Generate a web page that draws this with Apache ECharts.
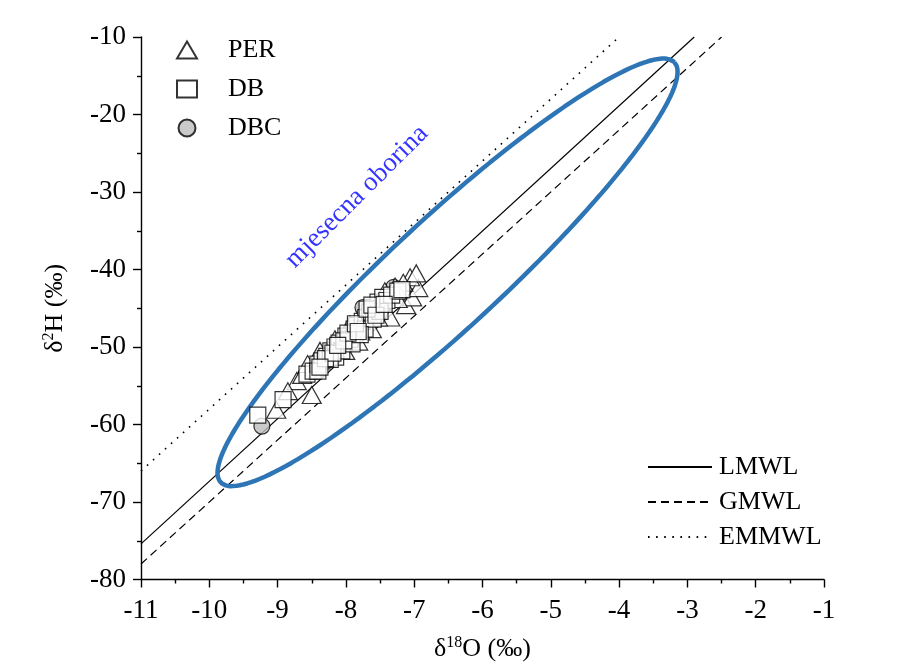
<!DOCTYPE html>
<html><head><meta charset="utf-8">
<script src="https://cdn.jsdelivr.net/npm/echarts@6/dist/echarts.min.js"></script>
<style>html,body{margin:0;padding:0;background:#fff}#c{width:897px;height:667px}</style>
</head><body><div id="c"></div>
<script>
// ---- data ----
const perX = [-9.02,-8.72,-8.50,-8.64,-8.45,-8.31,-8.01,-7.82,-7.62,-7.35,-7.12,-7.03,-6.94,-7.06,-6.97,-7.16,-7.43,-7.28,-7.72,-7.94,-8.16,-8.38,-8.56,-8.85,-7.53,-7.79,-7.24];
const perY = [-58.1,-54.4,-56.2,-53.6,-52.6,-51.3,-50.5,-49.3,-47.7,-46.2,-44.6,-43.6,-42.4,-41.0,-40.5,-41.7,-42.8,-42.2,-45.4,-47.1,-49.0,-50.5,-52.2,-55.7,-46.2,-48.0,-43.8];
const dbX = [-9.29,-8.92,-8.57,-8.48,-8.41,-8.35,-8.28,-8.22,-8.16,-8.10,-8.15,-8.06,-8.00,-7.94,-7.88,-7.84,-7.76,-7.71,-7.65,-7.72,-7.59,-7.53,-7.46,-7.40,-7.33,-7.24,-7.18,-7.60,-7.91,-8.23,-8.41,-7.50,-7.79,
             -8.30,-8.19,-8.03,-7.97,-7.86,-7.69,-7.62,-8.12,-7.82,-7.56,-7.44,-8.38];
const dbY = [-58.8,-56.8,-53.5,-53.1,-52.2,-51.8,-51.2,-50.5,-50.0,-49.5,-51.3,-50.5,-48.6,-49.0,-47.7,-47.2,-46.7,-46.2,-45.5,-47.7,-44.9,-44.2,-43.6,-44.0,-43.3,-42.8,-42.6,-46.4,-49.6,-51.6,-53.1,-45.4,-48.4,
             -51.5,-50.8,-49.2,-48.2,-47.0,-45.1,-44.6,-49.8,-48.0,-45.9,-44.5,-52.6];
const dbcX = [-9.23,-7.75,-7.30];
const dbcY = [-60.2,-44.9,-42.3];

const lmwlX = [-11, -2.9];   const lmwlY = [-75.4, -10];
const gmwlX = [-11, -2.5];   const gmwlY = [-78, -10];
const emmwlX = [-11, -4];    const emmwlY = [-66, -10];

// annotation ellipse (data coords): centre, end of long half-axis, end of short half-axis
const ellipseCenter = [-6.512, -40.37];
const ellipseMajorEnd = [-3.189, -13.28];
const ellipseMinorEnd = [-5.962, -45.58];

const noteText = 'mjesecna oborina';
const notePos = [-7.84, -30.6];

const xTickMin = -11, xTickMax = -1, yTickMin = -80, yTickMax = -10;

// ---- build ----
const zip = (a, b) => a.map((v, i) => [v, b[i]]);
const ell = [];
for (let k = 0; k <= 180; k++) {
  const t = k / 180 * 2 * Math.PI;
  const ax = ellipseMajorEnd[0] - ellipseCenter[0], ay = ellipseMajorEnd[1] - ellipseCenter[1];
  const bx = ellipseMinorEnd[0] - ellipseCenter[0], by = ellipseMinorEnd[1] - ellipseCenter[1];
  ell.push([ellipseCenter[0] + ax * Math.cos(t) + bx * Math.sin(t), ellipseCenter[1] + ay * Math.cos(t) + by * Math.sin(t)]);
}

const FONT = 'Liberation Serif, Times New Roman, serif';
const FS = 26;
const chart = echarts.init(document.getElementById('c'), null, {renderer: 'canvas'});
const axisCommon = {
  axisLine: {show: true, lineStyle: {color: '#000', width: 1.4}},
  axisTick: {show: true, inside: false, length: 8, lineStyle: {color: '#000', width: 1.4}},
  minorTick: {show: true, splitNumber: 2, length: 4, lineStyle: {color: '#000', width: 1.4}},
  splitLine: {show: false},
  axisLabel: {color: '#000', fontFamily: FONT, fontSize: 27}
};
const nameRich = {d: {fontFamily: FONT, fontSize: FS, color: '#000'}, s: {fontFamily: FONT, fontSize: 16, color: '#000', padding: [0, 0, 13, 0]}};
chart.setOption({
  animation: false,
  backgroundColor: '#fff',
  grid: {left: 141, right: 73, top: 37, bottom: 86},
  xAxis: Object.assign({}, axisCommon, {
    type: 'value', min: xTickMin, max: xTickMax, interval: 1,
    axisLabel: Object.assign({}, axisCommon.axisLabel, {margin: 18}),
    name: '{d|δ}{s|18}{d|O (‰)}', nameLocation: 'middle', nameGap: 55,
    nameTextStyle: {rich: nameRich}
  }),
  yAxis: Object.assign({}, axisCommon, {
    type: 'value', min: yTickMin, max: yTickMax, interval: 10,
    axisLabel: Object.assign({}, axisCommon.axisLabel, {margin: 15}),
    name: '{d|δ}{s|2}{d|H (‰)}', nameLocation: 'middle', nameGap: 71, nameRotate: 90,
    nameTextStyle: {rich: nameRich}
  }),
  legend: [
    {data: ['PER', 'DB', 'DBC'], orient: 'vertical', left: 176, top: 36, padding: 0, itemWidth: 20, itemHeight: 17, itemGap: 11,
     textStyle: {fontFamily: FONT, fontSize: FS, lineHeight: 28, color: '#000', padding: [0, 0, 0, 26]}},
    {data: ['LMWL', 'GMWL', 'EMMWL'], orient: 'vertical', left: 647, top: 453, padding: 0, itemWidth: 64, itemHeight: 16, itemGap: 7,
     itemStyle: {opacity: 0},
     textStyle: {fontFamily: FONT, fontSize: FS, lineHeight: 28, color: '#000', padding: [0, 0, 0, 2]}}
  ],
  series: [
    {name: 'LMWL', type: 'line', data: zip(lmwlX, lmwlY), symbol: 'none', lineStyle: {color: '#000', width: 1.2, type: 'solid'}, itemStyle: {color: '#000'}, z: 2},
    {name: 'GMWL', type: 'line', data: zip(gmwlX, gmwlY), symbol: 'none', lineStyle: {color: '#000', width: 1.2, type: [8, 5]}, itemStyle: {color: '#000'}, z: 2},
    {name: 'EMMWL', type: 'line', data: zip(emmwlX, emmwlY), symbol: 'none', lineStyle: {color: '#000', width: 1.6, type: [1.6, 6.5]}, itemStyle: {color: '#000'}, z: 2},
    {name: 'ellipse', type: 'line', data: ell, symbol: 'none', smooth: false, lineStyle: {color: '#2e75b6', width: 4.5}, z: 3, silent: true},
    {name: 'DBC', type: 'scatter', data: zip(dbcX, dbcY), symbol: 'circle', symbolSize: 16, itemStyle: {color: '#bdbdbd', borderColor: '#000', borderWidth: 1.2}, z: 4},
    {name: 'PER', type: 'scatter', data: zip(perX, perY), symbol: 'triangle', symbolSize: [19, 17], itemStyle: {color: '#fff', borderColor: '#000', borderWidth: 1.2}, z: 5},
    {name: 'DB', type: 'scatter', data: zip(dbX, dbY), symbol: 'rect', symbolSize: 16, itemStyle: {color: '#fff', borderColor: '#000', borderWidth: 1.2}, z: 6},
    {name: 'note', type: 'scatter', data: [notePos], symbolSize: 0, silent: true, z: 7,
     label: {show: true, position: 'inside', formatter: noteText, rotate: 45, color: '#0000ff', fontFamily: FONT, fontSize: 27}}
  ]
});
</script></body></html>
